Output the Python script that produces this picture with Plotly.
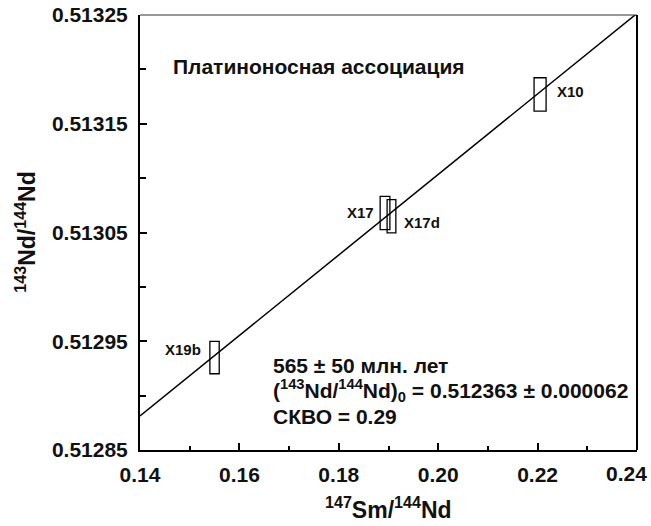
import numpy as np
import plotly.graph_objects as go

# ---- data ----
samples = ["X19b", "X17", "X17d", "X10"]
sm_nd = [0.1550, 0.1893, 0.1906, 0.2205]          # 147Sm/144Nd
nd_nd = [0.512935, 0.513068, 0.513065, 0.513177]   # 143Nd/144Nd
sm_err = [0.00094, 0.00098, 0.00088, 0.00121]      # half-width of error box
nd_err = [0.0000149, 0.0000153, 0.0000153, 0.0000153]

age_ma = 565
age_err = 50
nd_initial = 0.512363
nd_initial_err = 0.000062
mswd = 0.29
lambda_sm = 6.54e-12

x_ticks = [0.14, 0.16, 0.18, 0.20, 0.22, 0.24]
y_ticks = [0.51285, 0.51295, 0.51305, 0.51315, 0.51325]

# label offsets (style, px)
label_style = {
    "X19b": dict(side="left", xshift=-7, yshift=8),
    "X17": dict(side="left", xshift=-4, yshift=0),
    "X17d": dict(side="right", xshift=6, yshift=-6),
    "X10": dict(side="right", xshift=9, yshift=3),
}

FONT = "Arial, Liberation Sans, sans-serif"
INK = "#111111"

slope = np.exp(lambda_sm * age_ma * 1e6) - 1
xl = np.array([x_ticks[0], x_ticks[-1]])
yl = nd_initial + slope * xl

fig = go.Figure()
fig.add_trace(go.Scatter(x=xl, y=yl, mode="lines",
                         line=dict(color="black", width=1.5),
                         hoverinfo="skip", showlegend=False))

shapes = []
annotations = []
for name, x, y, ex, ey in zip(samples, sm_nd, nd_nd, sm_err, nd_err):
    shapes.append(dict(type="rect", xref="x", yref="y",
                       x0=x - ex, x1=x + ex, y0=y - ey, y1=y + ey,
                       line=dict(color="black", width=1.3),
                       fillcolor="rgba(0,0,0,0)"))
    st = label_style[name]
    if st["side"] == "left":
        ax, anchor = x - ex, "right"
    else:
        ax, anchor = x + ex, "left"
    annotations.append(dict(x=ax, y=y, xref="x", yref="y", text=f"<b>{name}</b>",
                            showarrow=False, xanchor=anchor, yanchor="middle",
                            xshift=st["xshift"], yshift=st["yshift"],
                            font=dict(family=FONT, size=15, color=INK)))

# frame top/right
shapes.append(dict(type="line", xref="paper", yref="paper", x0=0, x1=1, y0=1, y1=1,
                   line=dict(color="#333", width=1.2)))
shapes.append(dict(type="line", xref="paper", yref="paper", x0=1, x1=1, y0=0, y1=1,
                   line=dict(color="black", width=2)))

annotations.append(dict(x=0.062, y=0.8805, xref="paper", yref="paper",
                        text="<b>Платиноносная ассоциация</b>", showarrow=False,
                        xanchor="left", yanchor="middle",
                        font=dict(family=FONT, size=21, color=INK)))

info_lines = [
    f"<b>{age_ma} ± {age_err} млн. лет</b>",
    f"<b>(<sup>143</sup>Nd/<sup>144</sup>Nd)<sub>0</sub> = {nd_initial:.6f} ± {nd_initial_err:.6f}</b>",
    f"<b>СКВО = {mswd:.2f}</b>",
]
for txt, py in zip(info_lines, [0.1954, 0.1379, 0.0759]):
    annotations.append(dict(x=0.2636, y=py, xref="paper", yref="paper", text=txt,
                            showarrow=False, xanchor="left", yanchor="middle",
                            font=dict(family=FONT, size=21, color=INK)))

annotations.append(dict(x=-0.231, y=0.5, xref="paper", yref="paper",
                        text="<b><sup>143</sup>Nd/<sup>144</sup>Nd</b>", textangle=-90,
                        showarrow=False, xanchor="center", yanchor="middle",
                        font=dict(family=FONT, size=23, color=INK)))
annotations.append(dict(x=0.5, y=-0.1724, xref="paper", yref="paper",
                        text="<b><sup>147</sup>Sm/<sup>144</sup>Nd</b>",
                        showarrow=False, xanchor="center", yanchor="bottom",
                        font=dict(family=FONT, size=23, color=INK)))

# last x tick label sits inside the page edge
annotations.append(dict(x=x_ticks[-1], y=0, xref="x", yref="paper",
                        text=f"<b>{x_ticks[-1]:.2f}</b>", showarrow=False,
                        xanchor="right", yanchor="middle", xshift=12, yshift=-23,
                        font=dict(family=FONT, size=21, color=INK)))

fig.update_layout(
    width=651, height=526,
    margin=dict(l=140, r=14, t=15, b=76),
    paper_bgcolor="white", plot_bgcolor="white",
    shapes=shapes, annotations=annotations,
    showlegend=False,
    xaxis=dict(range=[x_ticks[0], x_ticks[-1]], tickvals=x_ticks,
               ticktext=[f"<b>{v:.2f}</b>" for v in x_ticks[:-1]] + [""],
               ticks="inside", ticklen=7, tickwidth=2, tickcolor="black",
               minor=dict(tickvals=[v + 0.01 for v in x_ticks[:-1]], ticks="inside",
                          ticklen=4, tickwidth=2, tickcolor="black"),
               showline=True, linewidth=2, linecolor="black", automargin=False,
               showgrid=False, zeroline=False, ticklabelstandoff=5,
               tickfont=dict(family=FONT, size=21, color=INK)),
    yaxis=dict(range=[y_ticks[0], y_ticks[-1]], tickvals=y_ticks,
               ticktext=[f"<b>{v:.5f}</b>" for v in y_ticks],
               ticks="inside", ticklen=7, tickwidth=2, tickcolor="black",
               minor=dict(tickvals=[v + 0.00005 for v in y_ticks[:-1]], ticks="inside",
                          ticklen=6, tickwidth=2, tickcolor="black"),
               showline=True, linewidth=2, linecolor="black", automargin=False,
               ticklabeloverflow="allow",
               showgrid=False, zeroline=False, ticklabelstandoff=6,
               tickfont=dict(family=FONT, size=21, color=INK)),
)

fig.write_html("out.html", config={"displayModeBar": False},
               post_script="document.body.style.margin='0';")
